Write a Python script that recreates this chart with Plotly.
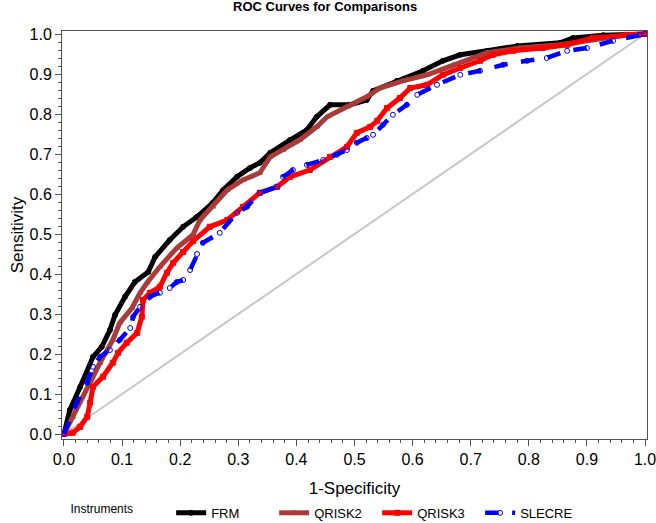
import plotly.graph_objects as go

# FRM
frm_x = [0, 0.010, 0.028, 0.050, 0.065, 0.079, 0.088, 0.105, 0.122, 0.145, 0.157, 0.182, 0.205, 0.229, 0.256,
         0.274, 0.298, 0.32, 0.337, 0.355, 0.389, 0.418, 0.435, 0.458, 0.492, 0.521, 0.532, 0.573, 0.618, 0.652,
         0.682, 0.728, 0.78, 0.854, 0.876, 0.928, 1.0]
frm_y = [0, 0.06, 0.118, 0.193, 0.218, 0.26, 0.298, 0.343, 0.38, 0.405, 0.443, 0.485, 0.518, 0.543, 0.578,
         0.61, 0.643, 0.665, 0.678, 0.703, 0.735, 0.76, 0.793, 0.823, 0.823, 0.835, 0.858, 0.883, 0.908, 0.933,
         0.948, 0.958, 0.97, 0.978, 0.99, 0.997, 1.0]

# QRISK2
q2_x = [0, 0.015, 0.045, 0.062, 0.084, 0.096, 0.117, 0.131, 0.143, 0.165, 0.194, 0.222, 0.234, 0.256, 0.281,
        0.308, 0.337, 0.355, 0.377, 0.406, 0.435, 0.453, 0.487, 0.521, 0.544, 0.583, 0.625, 0.67, 0.728, 0.785,
        0.854, 0.91, 0.969, 1.0]
q2_y = [0, 0.043, 0.135, 0.178, 0.235, 0.278, 0.315, 0.353, 0.378, 0.418, 0.465, 0.498, 0.535, 0.568, 0.61,
        0.635, 0.653, 0.693, 0.71, 0.735, 0.768, 0.793, 0.818, 0.843, 0.865, 0.883, 0.898, 0.923, 0.953, 0.965,
        0.973, 0.985, 0.998, 1.0]

# QRISK3
q3_x = [0, 0.015, 0.028, 0.04, 0.045, 0.05, 0.067, 0.084, 0.093, 0.108, 0.126, 0.134, 0.136, 0.148, 0.165,
        0.177, 0.188, 0.205, 0.222, 0.251, 0.281, 0.308, 0.337, 0.367, 0.389, 0.423, 0.458, 0.487, 0.504, 0.527,
        0.539, 0.556, 0.578, 0.596, 0.625, 0.652, 0.682, 0.716, 0.738, 0.773, 0.824, 0.866, 0.91, 0.969, 1.0]
q3_y = [0, 0.003, 0.018, 0.043, 0.078, 0.118, 0.143, 0.178, 0.203, 0.228, 0.253, 0.293, 0.335, 0.353, 0.368,
        0.403, 0.428, 0.455, 0.482, 0.518, 0.535, 0.568, 0.603, 0.618, 0.643, 0.66, 0.693, 0.718, 0.753, 0.768,
        0.783, 0.815, 0.84, 0.865, 0.873, 0.898, 0.915, 0.933, 0.948, 0.958, 0.965, 0.973, 0.99, 0.998, 1.0]

# SLECRE
sl_x = [0, 0.022, 0.04, 0.05, 0.062, 0.079, 0.096, 0.114, 0.119, 0.131, 0.148, 0.165, 0.182, 0.194, 0.205,
        0.217, 0.229, 0.239, 0.268, 0.298, 0.315, 0.337, 0.367, 0.377, 0.394, 0.418, 0.446, 0.47, 0.487, 0.504,
        0.521, 0.532, 0.549, 0.566, 0.59, 0.608, 0.642, 0.682, 0.716, 0.756, 0.797, 0.831, 0.866, 0.9, 0.945,
        0.991, 1.0]
sl_y = [0, 0.078, 0.128, 0.168, 0.193, 0.21, 0.235, 0.265, 0.293, 0.318, 0.343, 0.353, 0.365, 0.38, 0.385,
        0.41, 0.45, 0.478, 0.503, 0.553, 0.568, 0.603, 0.618, 0.643, 0.66, 0.673, 0.685, 0.698, 0.71, 0.728,
        0.74, 0.748, 0.773, 0.798, 0.823, 0.848, 0.873, 0.898, 0.908, 0.923, 0.933, 0.94, 0.958, 0.965, 0.983,
        0.998, 1.0]

ref_x = [0, 1]
ref_y = [0, 1]

names = ["FRM", "QRISK2", "QRISK3", "SLECRE"]
title_text = "ROC Curves for Comparisons"

fig = go.Figure()
fig.add_trace(go.Scatter(x=ref_x, y=ref_y, mode="lines", line=dict(color="#c8c8c8", width=2),
                         showlegend=False, hoverinfo="skip"))

specs = [
    (frm_x, frm_y, "#000000", "solid", "circle", 5),
    (q2_x, q2_y, "#a83c3a", "solid", "triangle-up-open", 5),
    (q3_x, q3_y, "#ff0000", "solid", "square", 5),
    (sl_x, sl_y, "#0000ff", "dash", "circle-open", 4.5),
]
for name, (xs, ys, col, dash, sym, w) in zip(names, specs):
    fig.add_trace(go.Scatter(x=xs, y=ys, mode="lines+markers", name=name,
                             line=dict(color=col, width=w, dash=dash),
                             marker=dict(symbol=sym, size=5, color=col, line=dict(color=col, width=1))))

font_family = "Liberation Sans, Arial, sans-serif"
fig.update_layout(
    width=656, height=523,
    margin=dict(l=62, r=9, t=31, b=84, autoexpand=False),
    paper_bgcolor="white", plot_bgcolor="white",
    font=dict(family=font_family, color="#000000"),
    showlegend=True,
    legend=dict(orientation="h", x=0.011, xanchor="left", y=-0.181, yanchor="middle",
                title=dict(text="Instruments" + "&nbsp;" * 9, side="left", font=dict(size=12)),
                font=dict(size=13), entrywidth=58, itemwidth=30, bgcolor="rgba(0,0,0,0)"),
)
fig.add_annotation(text="<b>" + title_text + "</b>", xref="paper", yref="paper",
                   x=(325 - 62) / 585, y=1 + 25 / 408, xanchor="center", yanchor="middle",
                   showarrow=False, font=dict(size=13, family=font_family, color="#000000"))
fig.update_xaxes(range=[-0.0034, 1.0034], tickvals=[i / 10 for i in range(11)],
                 ticktext=[f"{i / 10:.1f}" for i in range(11)], automargin=False, ticklabeloverflow="allow",
                 showgrid=False, zeroline=False, showline=True, linecolor="#555555", linewidth=1, mirror=True,
                 ticks="outside", ticklen=6, tickcolor="#555555", tickfont=dict(size=16),
                 minor=dict(dtick=0.02, tick0=0, ticks="outside", ticklen=3, tickcolor="#555555"),
                 title=dict(text="1-Specificity", font=dict(size=17), standoff=14))
fig.update_yaxes(range=[-0.0125, 1.0075], tickvals=[i / 10 for i in range(11)],
                 ticktext=[f"{i / 10:.1f}" for i in range(11)], automargin=False, ticklabeloverflow="allow",
                 showgrid=False, zeroline=False, showline=True, linecolor="#555555", linewidth=1, mirror=True,
                 ticks="outside", ticklen=6, tickcolor="#555555", tickfont=dict(size=16),
                 minor=dict(dtick=0.02, tick0=0, ticks="outside", ticklen=3, tickcolor="#555555"),
                 title=dict(text="Sensitivity", font=dict(size=17), standoff=1))

# remove the browser's default 8px body margin so the figure sits at the page corner
fig.write_html("out.html", config={"displayModeBar": False},
               post_script="document.body.style.margin='0px';")
